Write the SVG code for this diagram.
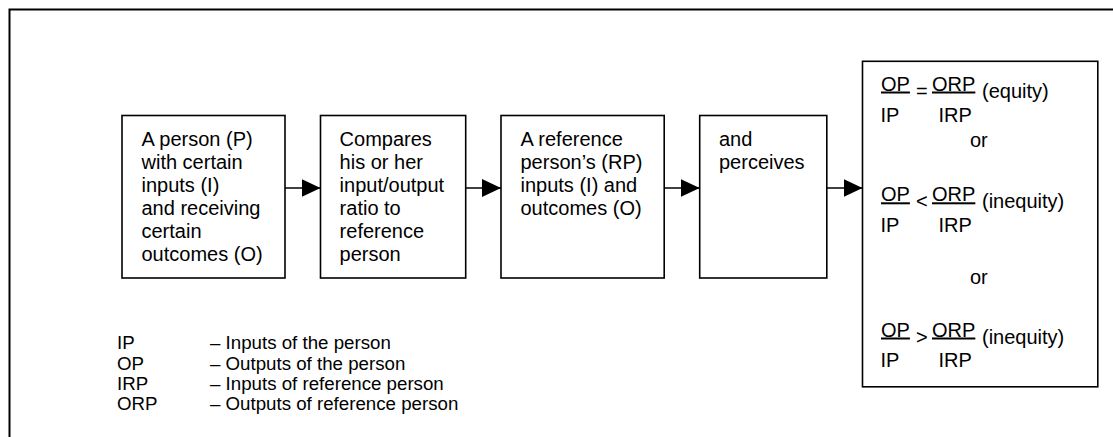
<svg xmlns="http://www.w3.org/2000/svg" width="1113" height="437" viewBox="0 0 1113 437">
  <style>
    .frame { fill: none; stroke: #000; stroke-width: 2; }
    .box { fill: #fff; stroke: #000; stroke-width: 1.6; }
    .conn { stroke: #000; stroke-width: 1.5; fill: none; }
    text { font-family: "Liberation Sans", Arial, sans-serif; fill: #000; }
    .t { font-size: 20px; }
    .lg { font-size: 18.7px; }
    .u { text-decoration: underline; }
  </style>
  <defs>
    <marker id="ah" markerUnits="userSpaceOnUse" markerWidth="19" markerHeight="18" refX="19" refY="9" orient="auto">
      <path d="M0,0 L19,9 L0,18 Z" fill="#000"/>
    </marker>
  </defs>
  <rect width="1113" height="437" fill="#fff"/>
  <g id="frame">
    <path class="frame" d="M9.5,437 L9.5,9.5 L1113,9.5"/>
  </g>
  <g id="connectors">
    <line class="conn" x1="285" y1="188" x2="320.5" y2="188" marker-end="url(#ah)"/>
    <line class="conn" x1="465.7" y1="188" x2="501" y2="188" marker-end="url(#ah)"/>
    <line class="conn" x1="664.2" y1="188" x2="699.7" y2="188" marker-end="url(#ah)"/>
    <line class="conn" x1="826.8" y1="188" x2="862.5" y2="188" marker-end="url(#ah)"/>
  </g>
  <g id="node-person">
    <rect class="box" x="122" y="115.5" width="163" height="162.5"/>
    <text class="t" x="141.5" y="145.7">A person (P)</text>
    <text class="t" x="141.5" y="168.7">with certain</text>
    <text class="t" x="141.5" y="191.7">inputs (I)</text>
    <text class="t" x="141.5" y="214.7">and receiving</text>
    <text class="t" x="141.5" y="237.7">certain</text>
    <text class="t" x="141.5" y="260.7">outcomes (O)</text>
  </g>
  <g id="node-compares">
    <rect class="box" x="320.5" y="115.5" width="145.2" height="162.5"/>
    <text class="t" x="339.6" y="145.7">Compares</text>
    <text class="t" x="339.6" y="168.7">his or her</text>
    <text class="t" x="339.6" y="191.7">input/output</text>
    <text class="t" x="339.6" y="214.7">ratio to</text>
    <text class="t" x="339.6" y="237.7">reference</text>
    <text class="t" x="339.6" y="260.7">person</text>
  </g>
  <g id="node-reference">
    <rect class="box" x="501" y="115.5" width="163.2" height="162.5"/>
    <text class="t" x="520.5" y="145.7">A reference</text>
    <text class="t" x="520.5" y="168.7">person’s (RP)</text>
    <text class="t" x="520.5" y="191.7">inputs (I) and</text>
    <text class="t" x="520.5" y="214.7">outcomes (O)</text>
  </g>
  <g id="node-perceives">
    <rect class="box" x="699.7" y="115.5" width="127.1" height="162.5"/>
    <text class="t" x="719" y="145.7">and</text>
    <text class="t" x="719" y="168.7">perceives</text>
  </g>
  <g id="node-outcome">
    <rect class="box" x="862.5" y="61.3" width="235.3" height="325.5"/>
    <text class="t u" x="881" y="90.5">OP</text>
    <text class="t" x="916" y="97.5">=</text>
    <text class="t u" x="932" y="90.5">ORP</text>
    <text class="t" x="982" y="97.5">(equity)</text>
    <text class="t" x="880.5" y="121.5">IP</text>
    <text class="t" x="938.5" y="121.5">IRP</text>
    <text class="t" x="970" y="147.3">or</text>

    <text class="t u" x="881" y="201.3">OP</text>
    <text class="t" x="916" y="208">&lt;</text>
    <text class="t u" x="932" y="201.3">ORP</text>
    <text class="t" x="982" y="208">(inequity)</text>
    <text class="t" x="880.5" y="232.2">IP</text>
    <text class="t" x="938.5" y="232.2">IRP</text>
    <text class="t" x="970" y="284">or</text>

    <text class="t u" x="881" y="336.5">OP</text>
    <text class="t" x="916" y="343.5">&gt;</text>
    <text class="t u" x="932" y="336.5">ORP</text>
    <text class="t" x="982" y="343.5">(inequity)</text>
    <text class="t" x="880.5" y="367">IP</text>
    <text class="t" x="938.5" y="367">IRP</text>
  </g>
  <g id="legend">
    <text class="lg" x="117" y="349.3">IP</text>
    <text class="lg" x="210" y="349.3">– Inputs of the person</text>
    <text class="lg" x="117" y="369.7">OP</text>
    <text class="lg" x="210" y="369.7">– Outputs of the person</text>
    <text class="lg" x="117" y="390">IRP</text>
    <text class="lg" x="210" y="390">– Inputs of reference person</text>
    <text class="lg" x="117" y="410.3">ORP</text>
    <text class="lg" x="210" y="410.3">– Outputs of reference person</text>
  </g>
</svg>
